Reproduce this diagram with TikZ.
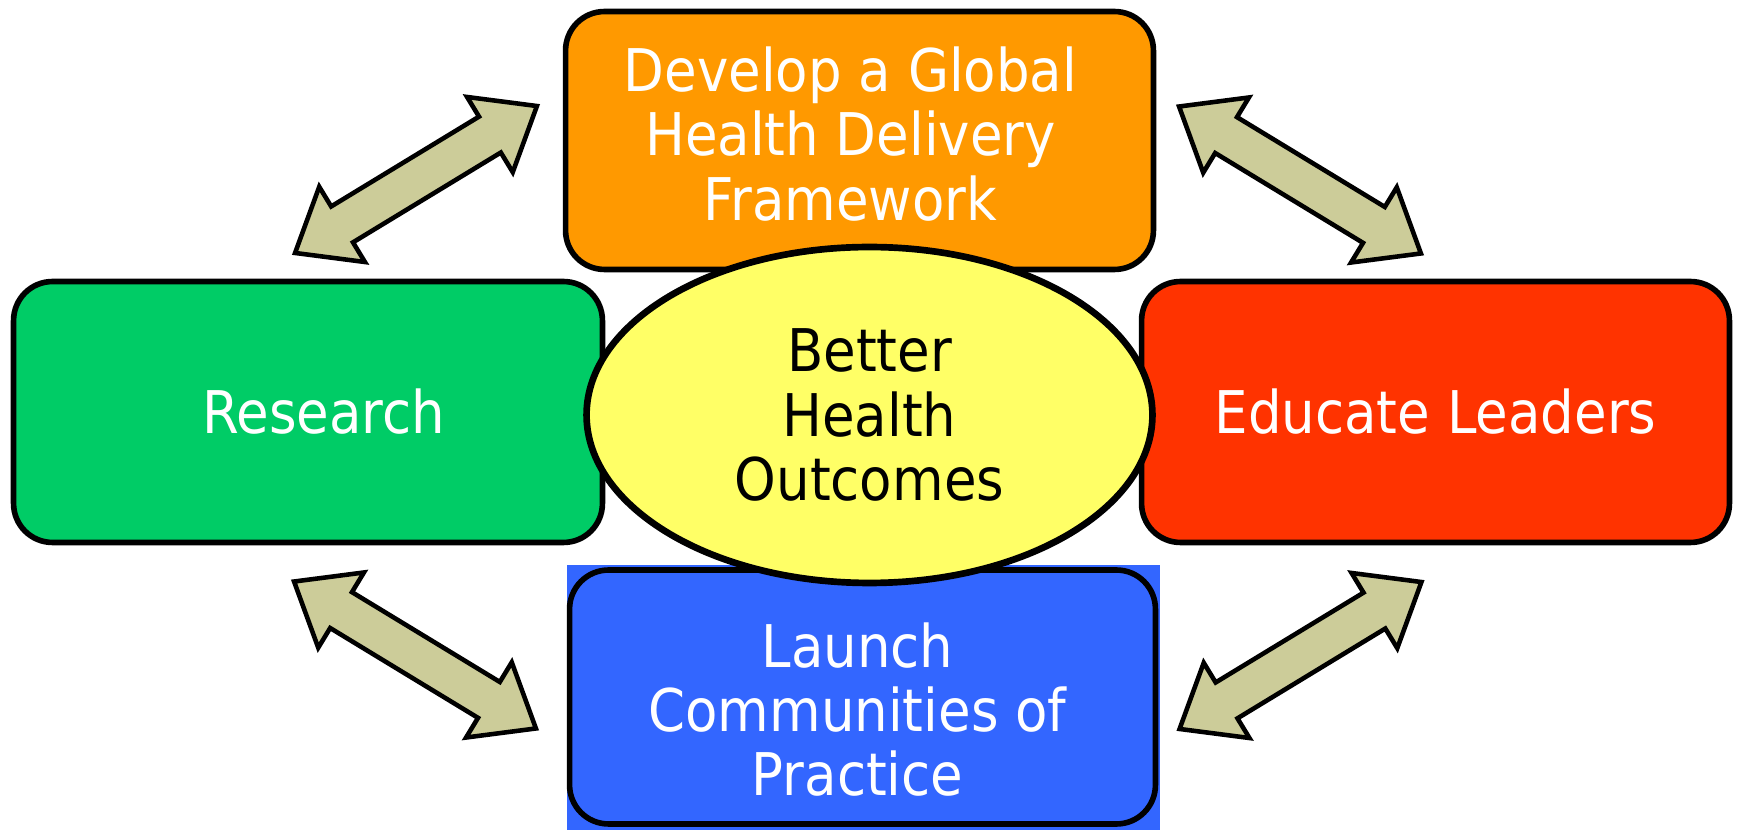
\documentclass[tikz,border=0pt]{standalone}
\usepackage{fontspec}
\setmainfont{DejaVu Sans}[FakeStretch=0.9]
\usepackage{tikz}
\usetikzlibrary{shapes.geometric}
\definecolor{devcol}{RGB}{255,153,0}
\definecolor{rescol}{RGB}{0,204,102}
\definecolor{educol}{RGB}{255,51,0}
\definecolor{laucol}{RGB}{51,102,255}
\definecolor{hubcol}{RGB}{255,255,102}
\definecolor{arrcol}{RGB}{204,204,153}
\tikzset{
  goal/.style={draw=black,line width=3.2pt,rounded corners=0.78cm,inner sep=0pt,
    align=center,text=white,font=\fontsize{33.5}{36.5}\selectfont},
  hub/.style={ellipse,draw=black,line width=3.8pt,fill=hubcol,inner sep=0pt,
    align=center,text=black,font=\fontsize{33.5}{36.5}\selectfont},
  twoway/.pic={
    \draw[fill=arrcol,line width=2.6pt]
      (-141.5,0) -- (-86.5,44) -- (-86.5,21) -- (86.5,21) -- (86.5,44) --
      (141.5,0) -- (86.5,-44) -- (86.5,-21) -- (-86.5,-21) -- (-86.5,-44) -- cycle;
  },
}
\begin{document}
\begin{tikzpicture}[x=0.02cm,y=0.02cm]
  \useasboundingbox (0,0) rectangle (1738,-830);
  \node[goal,fill=devcol,minimum width=11.76cm,minimum height=5.16cm,text height=91pt] (develop) at (859.5,-140.5)
    {Develop a Global\rule{0.36cm}{0pt}\\Health Delivery\rule{0.36cm}{0pt}\\Framework\rule{0.36cm}{0pt}};
  \node[goal,fill=rescol,minimum width=11.78cm,minimum height=5.22cm] (research) at (308,-412)
    {\rule{0.62cm}{0pt}Research};
  \node[goal,fill=educol,minimum width=11.76cm,minimum height=5.22cm] (educate) at (1435.5,-412) {Educate Leaders};
  \fill[laucol] (567,-565) rectangle (1160,-830);
  \node[goal,fill=laucol,minimum width=11.72cm,minimum height=5.08cm,text height=113pt] (launch) at (862.5,-697)
    {Launch\rule{0.2cm}{0pt}\\Communities of\rule{0.2cm}{0pt}\\Practice\rule{0.2cm}{0pt}};
  \pic[rotate=31.28] (tlarrow) at (416,-179.5) {twoway};
  \pic[rotate=-31.28] (trarrow) at (1300,-180) {twoway};
  \pic[rotate=-31.28] (blarrow) at (415,-655) {twoway};
  \pic[rotate=31.28] (brarrow) at (1300.5,-655.5) {twoway};
  \node[hub,minimum width=11.32cm,minimum height=6.72cm] (outcomes) at (869.5,-415)
    {Better\\Health\\Outcomes};
\end{tikzpicture}
\end{document}
